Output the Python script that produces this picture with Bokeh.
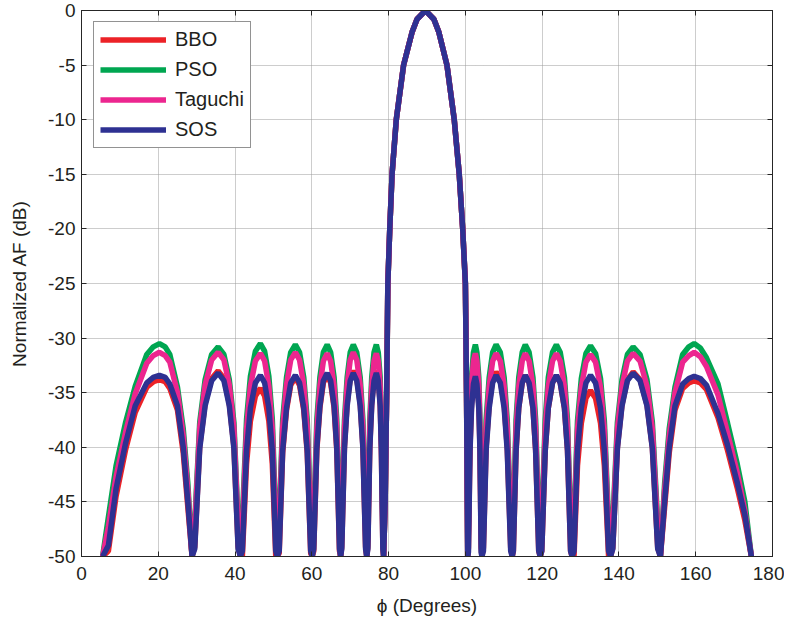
from bokeh.plotting import figure
from bokeh.models import Range1d, LinearAxis, Legend, LegendItem
from bokeh.embed import file_html
from bokeh.resources import INLINE

# ---------------- data ----------------
x_ticks = [0, 20, 40, 60, 80, 100, 120, 140, 160, 180]
y_ticks = [-50, -45, -40, -35, -30, -25, -20, -15, -10, -5, 0]

phi_left = [
    5.5, 7.0, 9.0, 11.5, 14.0, 17.0, 18.7, 20.3, 21.8, 23.0, 25.0, 26.5, 27.7, 28.8,
    29.5, 30.8, 32.2, 33.9, 35.6, 37.1, 38.5, 39.7, 40.8, 41.4,
    41.9, 43.0, 44.0, 45.3, 46.6, 47.7, 48.8, 49.7, 50.6, 51.0,
    51.5, 52.4, 53.4, 54.5, 55.7, 56.8, 57.9, 58.8, 59.7, 60.1,
    60.5, 61.3, 62.1, 63.0, 64.0, 64.9, 65.8, 66.5, 67.2, 67.5,
    67.8, 68.5, 69.2, 70.0, 70.8, 71.7, 72.6, 73.3, 74.0, 74.3,
    74.6, 75.1, 75.6, 76.2, 76.8, 77.3, 77.8, 78.1, 78.5, 78.7,
]
phi_main = [79.1, 79.5, 79.8, 80.3, 80.9, 82.0, 83.9, 86.1, 87.4, 89.6,
            91.8, 93.1, 95.2, 97.1, 98.4, 99.3, 100.0, 100.3, 100.6]
phi_right = [
    100.8, 101.2, 101.6, 102.1, 102.6, 103.0, 103.5, 103.8, 104.1, 104.3,
    104.7, 105.4, 106.2, 107.1, 108.0, 109.1, 110.1, 110.9, 111.8, 112.2,
    112.5, 113.2, 113.9, 114.8, 115.6, 116.6, 117.6, 118.3, 119.1, 119.5,
    119.9, 120.8, 121.6, 122.7, 123.7, 124.7, 125.8, 126.6, 127.4, 127.8,
    128.3, 129.2, 130.2, 131.4, 132.6, 133.9, 135.2, 136.2, 137.3, 137.8,
    138.4, 139.6, 140.8, 142.2, 143.7, 145.5, 147.3, 148.7, 150.1, 150.8,
    151.9, 153.1, 154.6, 156.6, 158.2, 159.6, 161.2, 162.8, 165.8, 168.3, 170.8, 172.8, 174.5,
]

main_lobe_db = [-45, -35, -25, -20, -15, -10, -5, -2, -0.8, 0,
                -0.8, -2, -5, -10, -15, -20, -25, -35, -50]

bbo_left_db = [
    -50, -49.5, -44.5, -40.2, -36.8, -34.5, -34.0, -33.8, -34.0, -34.6, -36.6, -40.5, -45.5, -50,
    -49.1, -39.9, -36.0, -33.7, -33.0, -33.7, -36.0, -39.9, -49.1, -50,
    -50.0, -41.5, -37.6, -35.3, -34.6, -35.3, -37.6, -41.5, -50.0, -50,
    -49.7, -40.5, -36.6, -34.3, -33.6, -34.3, -36.6, -40.5, -49.7, -50,
    -49.5, -40.3, -36.4, -34.1, -33.4, -34.1, -36.4, -40.3, -49.5, -50,
    -49.1, -39.9, -36.0, -33.7, -33.0, -33.7, -36.0, -39.9, -49.1, -50,
    -49.1, -39.9, -36.0, -33.7, -33.0, -33.7, -36.0, -39.9, -49.1, -50,
]
bbo_right_db = [
    -49.2, -40.0, -36.1, -33.8, -33.1, -33.8, -36.1, -40.0, -49.2, -50,
    -49.2, -40.0, -36.1, -33.8, -33.1, -33.8, -36.1, -40.0, -49.2, -50,
    -49.5, -40.3, -36.4, -34.1, -33.4, -34.1, -36.4, -40.3, -49.5, -50,
    -49.5, -40.3, -36.4, -34.1, -33.4, -34.1, -36.4, -40.3, -49.5, -50,
    -50.0, -41.7, -37.8, -35.5, -34.8, -35.5, -37.8, -41.7, -50.0, -50,
    -49.2, -40.0, -36.1, -33.8, -33.1, -33.8, -36.1, -40.0, -49.2, -50,
    -45.5, -40.5, -36.6, -34.6, -34.1, -33.9, -34.1, -34.7, -37.3, -40.3, -43.7, -46.7, -50,
]

pso_left_db = [
    -50, -46.4, -41.7, -37.7, -34.4, -31.5, -30.8, -30.5, -30.8, -31.5, -34.5, -38.3, -43.3, -50,
    -46.9, -37.7, -33.8, -31.5, -30.8, -31.5, -33.8, -37.7, -46.9, -50,
    -46.6, -37.4, -33.5, -31.2, -30.5, -31.2, -33.5, -37.4, -46.6, -50,
    -46.7, -37.5, -33.6, -31.3, -30.6, -31.3, -33.6, -37.5, -46.7, -50,
    -46.7, -37.5, -33.6, -31.3, -30.6, -31.3, -33.6, -37.5, -46.7, -50,
    -46.7, -37.5, -33.6, -31.3, -30.6, -31.3, -33.6, -37.5, -46.7, -50,
    -46.7, -37.5, -33.6, -31.3, -30.6, -31.3, -33.6, -37.5, -46.7, -50,
]
pso_right_db = [
    -46.7, -37.5, -33.6, -31.3, -30.6, -31.3, -33.6, -37.5, -46.7, -50,
    -46.7, -37.5, -33.6, -31.3, -30.6, -31.3, -33.6, -37.5, -46.7, -50,
    -46.7, -37.5, -33.6, -31.3, -30.6, -31.3, -33.6, -37.5, -46.7, -50,
    -46.7, -37.5, -33.6, -31.3, -30.6, -31.3, -33.6, -37.5, -46.7, -50,
    -46.8, -37.6, -33.7, -31.4, -30.7, -31.4, -33.7, -37.6, -46.8, -50,
    -46.9, -37.7, -33.8, -31.5, -30.8, -31.5, -33.8, -37.7, -46.9, -50,
    -43.3, -38.3, -34.5, -31.5, -30.8, -30.5, -30.9, -31.8, -34.2, -37.8, -41.5, -45.0, -50,
]

taguchi_left_db = [
    -50, -47.3, -42.7, -38.6, -35.1, -32.3, -31.6, -31.3, -31.6, -32.2, -35.0, -38.9, -43.9, -50,
    -47.4, -38.2, -34.3, -32.0, -31.3, -32.0, -34.3, -38.2, -47.4, -50,
    -47.5, -38.3, -34.4, -32.1, -31.4, -32.1, -34.4, -38.3, -47.5, -50,
    -47.4, -38.2, -34.3, -32.0, -31.3, -32.0, -34.3, -38.2, -47.4, -50,
    -47.5, -38.3, -34.4, -32.1, -31.4, -32.1, -34.4, -38.3, -47.5, -50,
    -47.4, -38.2, -34.3, -32.0, -31.3, -32.0, -34.3, -38.2, -47.4, -50,
    -47.5, -38.3, -34.4, -32.1, -31.4, -32.1, -34.4, -38.3, -47.5, -50,
]
taguchi_right_db = [
    -47.5, -38.3, -34.4, -32.1, -31.4, -32.1, -34.4, -38.3, -47.5, -50,
    -47.5, -38.3, -34.4, -32.1, -31.4, -32.1, -34.4, -38.3, -47.5, -50,
    -47.5, -38.3, -34.4, -32.1, -31.4, -32.1, -34.4, -38.3, -47.5, -50,
    -47.5, -38.3, -34.4, -32.1, -31.4, -32.1, -34.4, -38.3, -47.5, -50,
    -47.6, -38.4, -34.5, -32.2, -31.5, -32.2, -34.5, -38.4, -47.6, -50,
    -47.5, -38.3, -34.4, -32.1, -31.4, -32.1, -34.4, -38.3, -47.5, -50,
    -43.9, -38.9, -35.0, -32.2, -31.6, -31.3, -31.7, -32.6, -35.2, -38.7, -42.3, -45.8, -50,
]

sos_left_db = [
    -50, -49.0, -43.8, -39.6, -36.2, -34.1, -33.6, -33.4, -33.6, -34.2, -36.2, -40.0, -45.0, -50,
    -49.3, -40.1, -36.2, -33.9, -33.2, -33.9, -36.2, -40.1, -49.3, -50,
    -49.5, -40.3, -36.4, -34.1, -33.4, -34.1, -36.4, -40.3, -49.5, -50,
    -49.5, -40.3, -36.4, -34.1, -33.4, -34.1, -36.4, -40.3, -49.5, -50,
    -49.3, -40.1, -36.2, -33.9, -33.2, -33.9, -36.2, -40.1, -49.3, -50,
    -49.3, -40.1, -36.2, -33.9, -33.2, -33.9, -36.2, -40.1, -49.3, -50,
    -49.3, -40.1, -36.2, -33.9, -33.2, -33.9, -36.2, -40.1, -49.3, -50,
]
sos_right_db = [
    -49.6, -40.4, -36.5, -34.2, -33.5, -34.2, -36.5, -40.4, -49.6, -50,
    -49.5, -40.3, -36.4, -34.1, -33.4, -34.1, -36.4, -40.3, -49.5, -50,
    -49.5, -40.3, -36.4, -34.1, -33.4, -34.1, -36.4, -40.3, -49.5, -50,
    -49.5, -40.3, -36.4, -34.1, -33.4, -34.1, -36.4, -40.3, -49.5, -50,
    -49.5, -40.3, -36.4, -34.1, -33.4, -34.1, -36.4, -40.3, -49.5, -50,
    -49.3, -40.1, -36.2, -33.9, -33.2, -33.9, -36.2, -40.1, -49.3, -50,
    -45.0, -40.0, -36.2, -34.2, -33.7, -33.5, -33.7, -34.3, -36.9, -39.8, -43.2, -46.2, -50,
]

series_names = ["BBO", "PSO", "Taguchi", "SOS"]
series_colors = ["#EC2227", "#00A651", "#EC268F", "#2E3192"]

phi = phi_left + phi_main + phi_right
series_db = {
    "BBO": bbo_left_db + main_lobe_db + bbo_right_db,
    "PSO": pso_left_db + main_lobe_db + pso_right_db,
    "Taguchi": taguchi_left_db + main_lobe_db + taguchi_right_db,
    "SOS": sos_left_db + main_lobe_db + sos_right_db,
}

# ---------------- figure ----------------
FONT = "Liberation Sans"
TXT = "#231F20"

p = figure(frame_width=691, frame_height=546,
           x_range=Range1d(0, 180), y_range=Range1d(-50, 0),
           output_backend="svg", toolbar_location=None,
           min_border_left=81, min_border_right=12,
           min_border_top=10, min_border_bottom=40,
           background_fill_color="white", border_fill_color="white")
p.outline_line_color = "#262626"
p.outline_line_width = 1

def style_axis(ax, show_labels=True):
    ax.major_tick_in = 5
    ax.major_tick_out = 0
    ax.minor_tick_line_color = None
    ax.axis_line_color = "#262626"
    ax.major_tick_line_color = "#262626"
    ax.major_label_text_font = FONT
    if show_labels:
        ax.major_label_text_color = TXT
        ax.major_label_text_font_size = "19px"
        ax.axis_label_text_font = FONT
        ax.axis_label_text_font_size = "19px"
        ax.axis_label_text_font_style = "normal"
        ax.axis_label_text_color = TXT
    else:
        ax.major_label_text_color = None
        ax.major_label_text_font_size = "0px"
        ax.major_label_standoff = 0

p.xaxis.ticker = x_ticks
p.yaxis.ticker = y_ticks
p.yaxis.major_label_overrides = {v: str(v) for v in y_ticks}
p.xaxis.major_label_overrides = {v: str(v) for v in x_ticks}
p.xaxis.axis_label = "\u03d5 (Degrees)"
p.yaxis.axis_label = "Normalized AF (dB)"
style_axis(p.xaxis[0])
style_axis(p.yaxis[0])
p.xaxis.major_label_standoff = 10
p.xaxis.axis_label_standoff = 12
p.yaxis.major_label_standoff = 6
p.yaxis.axis_label_standoff = 15

top_ax = LinearAxis(ticker=x_ticks)
right_ax = LinearAxis(ticker=y_ticks)
style_axis(top_ax, False)
style_axis(right_ax, False)
p.add_layout(top_ax, "above")
p.add_layout(right_ax, "right")

p.grid.grid_line_color = "#9a9a9a"
p.grid.grid_line_dash = "1 1"
p.grid.grid_line_width = 1

# draw order: PSO, BBO, Taguchi, SOS (SOS on top)
renderers = {}
for name in ["PSO", "BBO", "Taguchi", "SOS"]:
    color = series_colors[series_names.index(name)]
    renderers[name] = p.line(phi, series_db[name], line_color=color, line_width=5.5)

items = [LegendItem(label=name, renderers=[renderers[name]]) for name in series_names]

legend = Legend(items=items, location=(12, 408))
legend.label_text_font = FONT
legend.label_text_font_size = "20px"
legend.label_text_color = TXT
legend.glyph_width = 66
legend.glyph_height = 19
legend.label_height = 19
legend.label_standoff = 9
legend.spacing = 7
legend.padding = 6
legend.margin = 0
legend.border_line_color = "#262626"
legend.border_line_width = 1
legend.background_fill_color = "white"
legend.background_fill_alpha = 1
p.add_layout(legend, "center")

open("out.html", "w").write(file_html(p, INLINE))
